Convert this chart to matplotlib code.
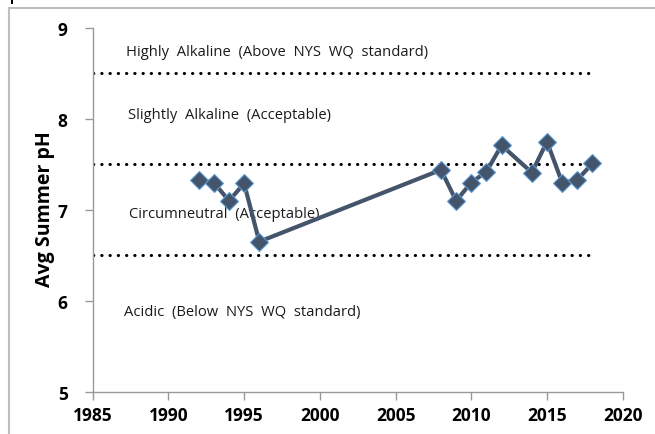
import matplotlib
matplotlib.use("Agg")
import matplotlib.pyplot as plt
from matplotlib.patches import Rectangle

years = [1992, 1993, 1994, 1995, 1996, 2008, 2009, 2010, 2011, 2012, 2014, 2015, 2016, 2017, 2018]
ph = [7.33, 7.30, 7.10, 7.29, 6.65, 7.44, 7.10, 7.30, 7.42, 7.71, 7.41, 7.75, 7.30, 7.33, 7.51]

thresholds = [8.5, 7.5, 6.5]
zone_labels = ["Highly  Alkaline  (Above  NYS  WQ  standard)",
               "Slightly  Alkaline  (Acceptable)",
               "Circumneutral  (Acceptable)",
               "Acidic  (Below  NYS  WQ  standard)"]
zone_label_pos = [(1987.2, 8.74), (1987.3, 8.05), (1987.4, 6.96), (1987.1, 5.88)]

xticks = [1985, 1990, 1995, 2000, 2005, 2010, 2015, 2020]
yticks = [5, 6, 7, 8, 9]

plt.rcParams['font.family'] = ['Open Sans', 'DejaVu Sans']

fig = plt.figure(figsize=(6.55, 4.35), dpi=100)
# outer frame
fig.patches.append(Rectangle((9 / 655, -0.1), 1.2, 1 - 9 / 435 + 0.1, transform=fig.transFigure,
                             fill=False, edgecolor='#bfbfbf', linewidth=1.5))
fig.patches.append(Rectangle((10.5 / 655, 1 - 5 / 435), 2.5 / 655, 5 / 435, transform=fig.transFigure,
                             facecolor='black', edgecolor='none'))

ax = fig.add_axes([92.7 / 655, 1 - 392.7 / 435, 530 / 655, (392.7 - 29) / 435])

for t in thresholds:
    ax.plot([1985, 2018], [t, t], linestyle=(0, (0.1, 2.6)), color='black',
            linewidth=2.2, dash_capstyle='round', zorder=1)

for lbl, (x, y) in zip(zone_labels, zone_label_pos):
    ax.text(x, y, lbl, fontsize=10.6, color='#1a1a1a', va='center', ha='left', zorder=2)

ax.plot(years, ph, color='#44546A', linewidth=3, marker='D', markersize=9.5,
        markerfacecolor='#44546A', markeredgecolor='#5B9BD5', markeredgewidth=0.8, zorder=3)

ax.set_xlim(1985, 2020)
ax.set_ylim(5, 9)
ax.set_xticks(xticks)
ax.set_yticks(yticks)
ax.set_xticklabels([str(v) for v in xticks], fontweight='bold', fontsize=12.5)
ax.set_yticklabels([str(v) for v in yticks], fontweight='bold', fontsize=12.5)
ax.set_ylabel("Avg Summer pH", fontweight='bold', fontsize=14)
ax.yaxis.set_label_coords(-0.072, 0.505)

for s in ['top', 'right']:
    ax.spines[s].set_visible(False)
for s in ['left', 'bottom']:
    ax.spines[s].set_color('#999999')
    ax.spines[s].set_linewidth(1)
ax.tick_params(axis='both', direction='out', length=6, color='#999999', width=1)
ax.tick_params(axis='y', pad=12)
ax.tick_params(axis='x', pad=4)

fig.savefig("out.png", dpi=100)
